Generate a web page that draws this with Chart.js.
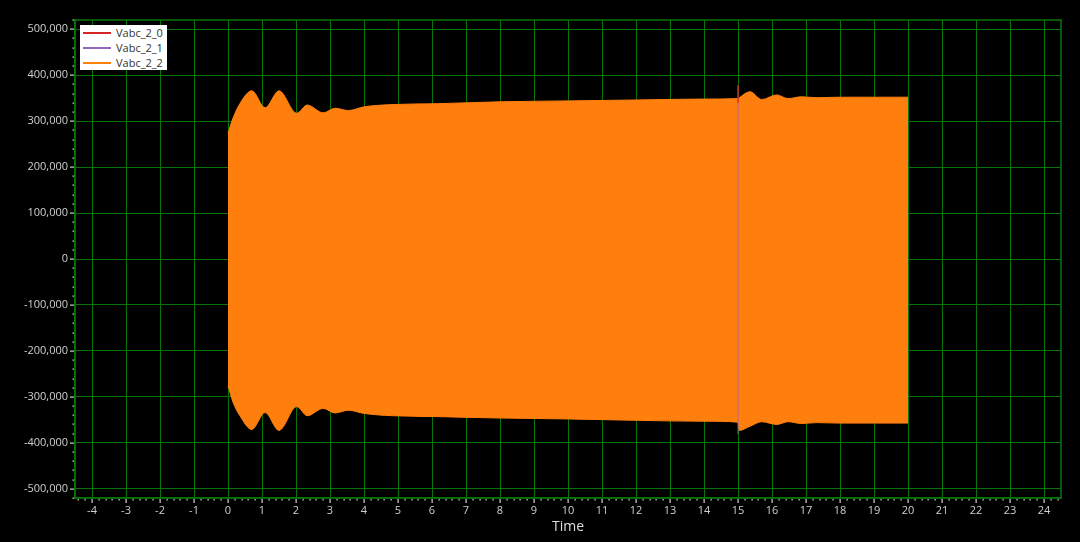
<!DOCTYPE html>
<html>
<head>
<meta charset="utf-8">
<script src="https://cdn.jsdelivr.net/npm/chart.js@4.4.0/dist/chart.umd.min.js"></script>
<style>
  html, body { margin: 0; padding: 0; background: #000; }
  #wrap { position: relative; width: 1080px; height: 542px; }
  #legend {
    position: absolute; left: 80px; top: 25px; width: 87px; height: 45px;
    background: #fff; font-family: "Open Sans", sans-serif; font-size: 11px; color: #333;
  }
  .row { position: absolute; left: 0; height: 15px; line-height: 15px; }
  .row span.ln { position: absolute; left: 3px; top: 7px; width: 28px; height: 2px; }
  .row span.tx { position: absolute; left: 36px; top: 0; white-space: nowrap; }
</style>
</head>
<body>
<div id="wrap">
  <canvas id="chart1" width="1080" height="542"></canvas>
  <div id="legend"></div>
</div>
<script>
// envelope of the (dense) orange waveform
var times    = [0, 0.15, 0.35, 0.7, 1.09, 1.5, 2.02, 2.33, 2.8, 3.15, 3.54, 4.0, 4.85, 6.2, 8, 10, 12, 14, 15.0, 15.04, 15.35, 15.7, 16.14, 16.47, 16.87, 17.3, 18, 19, 20];
var upperEnv = [274000, 307000, 338000, 366000, 329000, 366000, 317000, 335000, 318000, 328000, 323000, 331000, 336000, 338000, 342000, 344000, 346000, 348000, 349000, 351000, 364000, 347000, 357000, 349000, 353000, 351000, 352000, 352000, 352000];
var lowerEnv = [-276000, -312000, -341000, -371000, -334000, -373000, -321000, -341000, -325000, -335000, -329000, -336000, -341000, -343000, -346000, -348000, -351000, -353000, -355000, -373000, -364000, -354000, -360000, -354000, -358000, -356000, -357000, -357000, -357000];

// the switching spike at t = 15 where the other phases show through
var spikeTimes  = [15.0, 15.0];
var redSpike    = [378000, 340000];
var purpleSpike = [340000, -381000];

var seriesNames  = ['Vabc_2_0', 'Vabc_2_1', 'Vabc_2_2'];
var seriesColors = ['#d62728', '#9467bd', '#ff7f0e'];

var xTicks = [-4, -3, -2, -1, 0, 1, 2, 3, 4, 5, 6, 7, 8, 9, 10, 11, 12, 13, 14, 15, 16, 17, 18, 19, 20, 21, 22, 23, 24];
var yTicks = [-500000, -400000, -300000, -200000, -100000, 0, 100000, 200000, 300000, 400000, 500000];

var xMin = -4.5, xMax = 24.5;
var yMin = -520000, yMax = 520000;

function pts(xs, ys) {
  return xs.map(function(x, i) { return {x: x, y: ys[i]}; });
}

// html legend
var legendEl = document.getElementById('legend');
seriesNames.forEach(function(n, i) {
  var row = document.createElement('div');
  row.className = 'row';
  row.style.top = (i * 15) + 'px';
  row.innerHTML = '<span class="ln" style="background:' + seriesColors[i] + '"></span><span class="tx">' + n + '</span>';
  legendEl.appendChild(row);
});

const gridGreen = '#087508';
const tickGrey = '#cfcfcf';

// frame + major/minor tick marks outside the plot
const frameTicks = {
  id: 'frameTicks',
  afterDraw(chart) {
    const ctx = chart.ctx, a = chart.chartArea;
    const xs = chart.scales.x, ys = chart.scales.y;
    ctx.save();
    ctx.strokeStyle = gridGreen;
    ctx.lineWidth = 1.5;
    ctx.strokeRect(a.left, a.top, a.right - a.left, a.bottom - a.top);
    ctx.fillStyle = tickGrey;
    for (let k = Math.ceil(xMin * 5); k <= Math.floor(xMax * 5); k++) {
      const px = Math.round(xs.getPixelForValue(k / 5));
      if (k % 5 === 0) ctx.fillRect(px - 0.5, a.bottom + 1, 1.2, 4);
      else ctx.fillRect(px - 0.5, a.bottom + 1, 1.2, 1.5);
    }
    for (let k = Math.ceil(yMin / 20000); k <= Math.floor(yMax / 20000); k++) {
      const py = Math.round(ys.getPixelForValue(k * 20000));
      if (k % 5 === 0) ctx.fillRect(a.left - 5, py - 0.5, 4, 1.2);
      else ctx.fillRect(a.left - 2.5, py - 0.5, 1.5, 1.2);
    }
    ctx.restore();
  }
};

function setTicks(list) {
  return function(s) { s.ticks = list.map(function(v) { return {value: v}; }); };
}

const ctx1 = document.getElementById('chart1').getContext('2d');
new Chart(ctx1, {
  type: 'line',
  data: {
    datasets: [{
      label: seriesNames[0],
      data: pts(spikeTimes, redSpike),
      borderColor: seriesColors[0],
      borderWidth: 1.5,
      pointRadius: 0,
      fill: false
    }, {
      label: seriesNames[1],
      data: pts(spikeTimes, purpleSpike),
      borderColor: 'rgba(148,103,189,0.55)',
      borderWidth: 1.5,
      pointRadius: 0,
      fill: false
    }, {
      label: seriesNames[2],
      data: pts(times, upperEnv),
      borderColor: seriesColors[2],
      backgroundColor: seriesColors[2],
      borderWidth: 1,
      pointRadius: 0,
      cubicInterpolationMode: 'monotone',
      fill: '+1'
    }, {
      label: seriesNames[2] + ' (min)',
      data: pts(times, lowerEnv),
      borderColor: seriesColors[2],
      borderWidth: 1,
      pointRadius: 0,
      cubicInterpolationMode: 'monotone',
      fill: false
    }]
  },
  options: {
    responsive: false,
    animation: false,
    layout: { padding: { top: 20, right: 19, bottom: 0, left: 0 } },
    plugins: {
      legend: { display: false },
      tooltip: { enabled: false }
    },
    scales: {
      x: {
        type: 'linear',
        min: xMin,
        max: xMax,
        afterBuildTicks: setTicks(xTicks),
        afterFit: function(s) { s.height = 44; },
        border: { display: true, color: gridGreen, width: 1.5 },
        grid: { color: gridGreen, lineWidth: 1, drawTicks: false },
        ticks: {
          autoSkip: false,
          maxRotation: 0,
          padding: 6,
          color: tickGrey,
          font: { family: '"Open Sans", sans-serif', size: 11 },
          callback: function(v) { return String(v); }
        },
        title: {
          display: true,
          text: 'Time',
          color: '#dddddd',
          font: { family: '"Open Sans", sans-serif', size: 14 },
          padding: { top: 2, bottom: 7 }
        }
      },
      y: {
        type: 'linear',
        min: yMin,
        max: yMax,
        afterBuildTicks: setTicks(yTicks),
        afterFit: function(s) { s.width = 75; },
        border: { display: true, color: gridGreen, width: 1.5 },
        grid: { color: gridGreen, lineWidth: 1, drawTicks: false },
        ticks: {
          autoSkip: false,
          padding: 7,
          color: tickGrey,
          font: { family: '"Open Sans", sans-serif', size: 11 },
          callback: function(v) { return v.toLocaleString('en-US'); }
        }
      }
    }
  },
  plugins: [frameTicks]
});
</script>
</body>
</html>
